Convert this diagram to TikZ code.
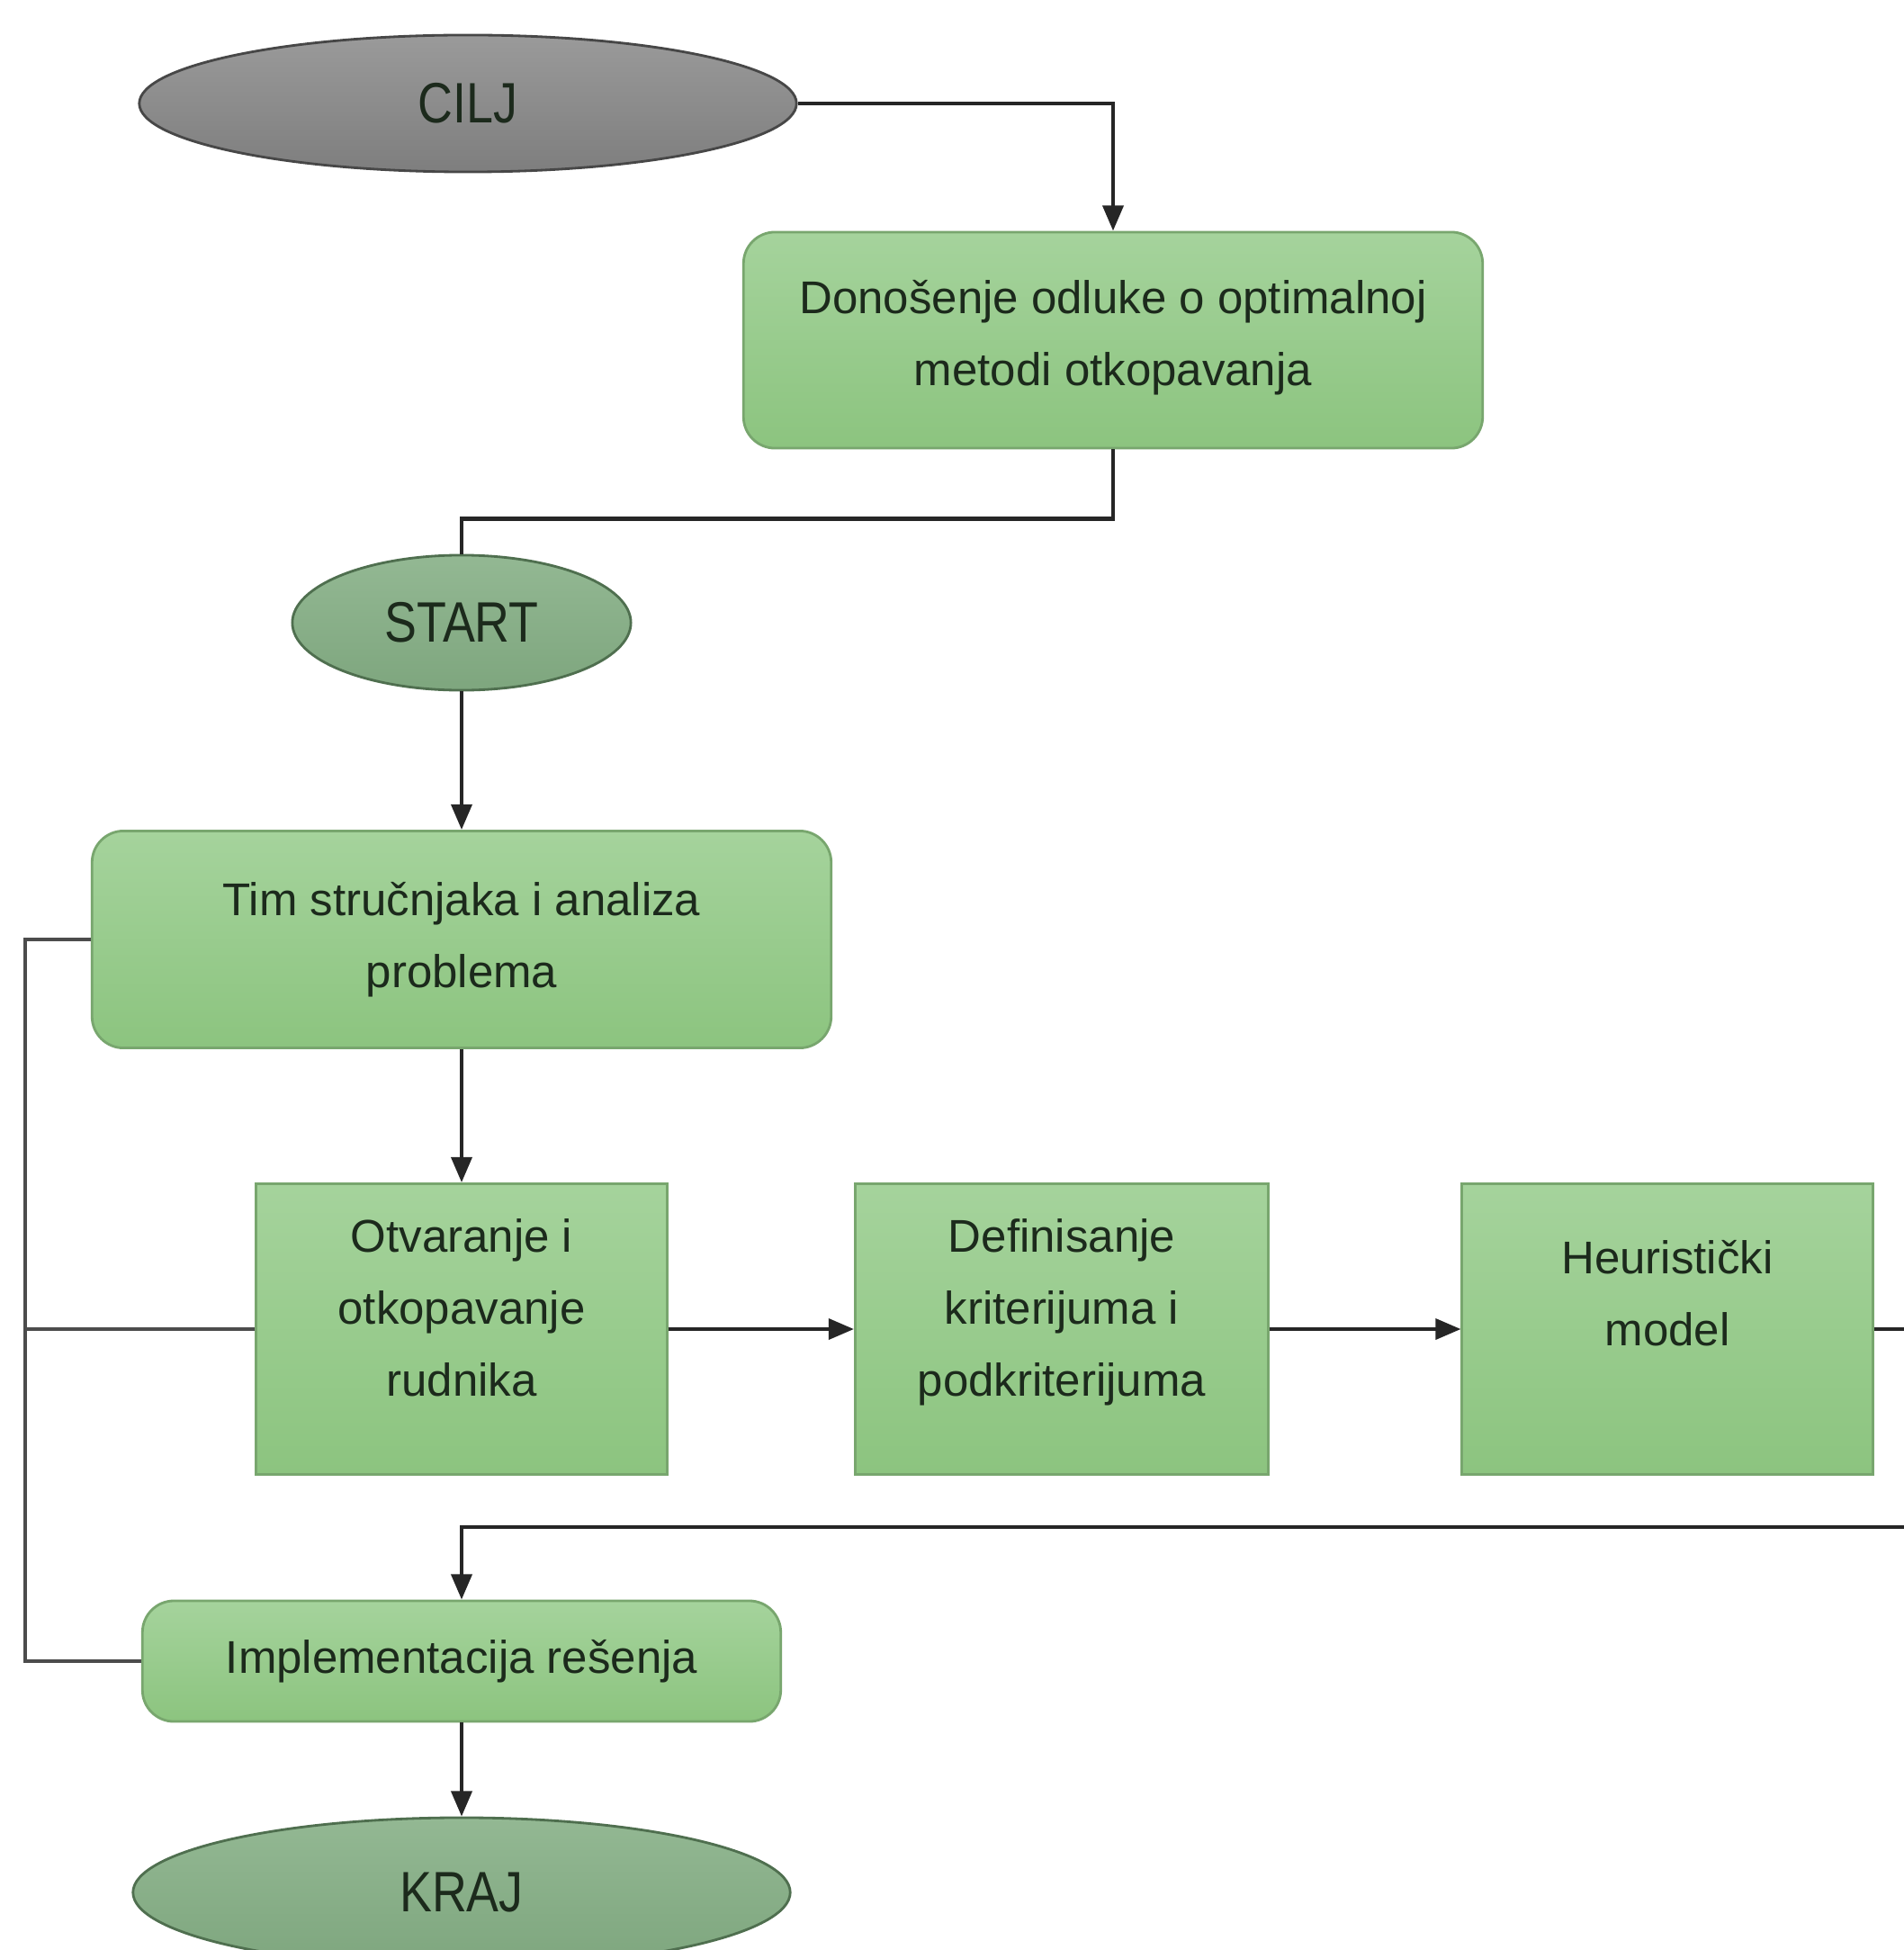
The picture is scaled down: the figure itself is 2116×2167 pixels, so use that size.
\documentclass[tikz,border=0pt]{standalone}
\usepackage{fontspec}
\setmainfont{Liberation Sans}
\newfontfamily\narrowfont[FakeStretch=0.85]{Liberation Sans}
\usetikzlibrary{shapes.geometric,arrows.meta}
\definecolor{boxtop}{HTML}{A5D39C}
\definecolor{boxbot}{HTML}{8CC47F}
\definecolor{boxedge}{HTML}{78A66E}
\definecolor{ovaltop}{HTML}{93B893}
\definecolor{ovalbot}{HTML}{7EA67E}
\definecolor{ovaledge}{HTML}{4F6F4F}
\definecolor{graytop}{HTML}{9A9A9A}
\definecolor{graybot}{HTML}{7E7E7E}
\definecolor{grayedge}{HTML}{474747}
\definecolor{txt}{HTML}{1C2A1C}
\begin{document}
\begin{tikzpicture}[x=0.01cm,y=-0.01cm,
  flow/.style={draw=boxedge, line width=0.8pt, top color=boxtop, bottom color=boxbot,
    text=txt, font=\fontsize{14.5}{22.7}\selectfont, align=center, inner sep=0pt},
  roundbox/.style={flow, rounded corners=0.35cm},
  sqbox/.style={flow},
  oval/.style={ellipse, draw=ovaledge, line width=0.8pt, top color=ovaltop, bottom color=ovalbot,
    inner sep=0pt, font=\narrowfont\fontsize{18}{20}\selectfont, text=txt},
  conn/.style={line width=1.2pt, draw=black!85},
  arr/.style={conn, -{Triangle[length=8pt,width=6.5pt]}},
  fb/.style={line width=1.2pt, draw=black!70}]
\useasboundingbox (0,0) rectangle (2116,2167);
\clip (0,0) rectangle (2116,2167);
\fill[white] (0,0) rectangle (2116,2167);

\node[oval, top color=graytop, bottom color=graybot, draw=grayedge,
  minimum width=7.30cm, minimum height=1.52cm] (cilj) at (520,115) {CILJ};
\node[roundbox, minimum width=8.21cm, minimum height=2.40cm] (odluka) at (1237,378)
  {Donošenje odluke o optimalnoj\\metodi otkopavanja\\[-18pt]\mbox{}};
\node[oval, minimum width=3.76cm, minimum height=1.50cm] (start) at (513,692) {START};
\node[roundbox, minimum width=8.21cm, minimum height=2.41cm] (tim) at (513,1044)
  {Tim stručnjaka i analiza\\problema};
\node[sqbox, minimum width=4.56cm, minimum height=3.23cm] (otv) at (513,1477)
  {Otvaranje i\\otkopavanje\\rudnika\\[-9pt]\mbox{}};
\node[sqbox, minimum width=4.59cm, minimum height=3.23cm] (def) at (1180,1477)
  {Definisanje\\kriterijuma i\\podkriterijuma\\[-9pt]\mbox{}};
\node[sqbox, minimum width=4.56cm, minimum height=3.23cm] (heu) at (1853,1477)
  {Heuristički\\model\\\phantom{m}};
\node[roundbox, minimum width=7.09cm, minimum height=1.34cm] (impl) at (513,1846)
  {Implementacija rešenja};
\node[oval, minimum width=7.30cm, minimum height=1.66cm] (kraj) at (513,2103) {KRAJ};

\coordinate (L) at (28,0);
\coordinate (c1) at (2160,1697);

\draw[arr] (cilj.east) -| (odluka.north);
\draw[conn] (odluka.south) -- ++(0,77) -| (start.north);
\draw[arr] (start.south) -- (tim.north);
\draw[arr] (tim.south) -- (otv.north);
\draw[arr] (otv.east) -- (def.west);
\draw[arr] (def.east) -- (heu.west);
\draw[arr] (heu.east) -| (c1) -| (impl.north);
\draw[arr] (impl.south) -- (kraj.north);
\draw[fb] (tim.west) -- (tim.west -| L) -- (impl.west -| L) -- (impl.west);
\draw[fb] (otv.west) -- (otv.west -| L);
\end{tikzpicture}
\end{document}
